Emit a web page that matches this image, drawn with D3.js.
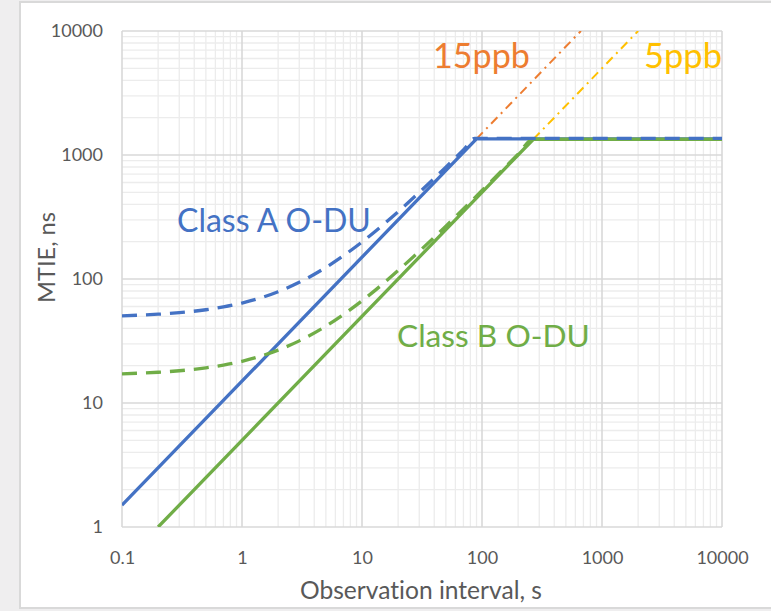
<!DOCTYPE html>
<html>
<head>
<meta charset="utf-8">
<script src="https://cdn.jsdelivr.net/npm/d3@7"></script>
<style>
  body { margin: 0; background: #efeeef; }
  svg { display: block; }
  text { font-variant-ligatures: none; }
</style>
</head>
<body>
<div id="app"></div>
<script>
const WIDTH = 771;
const HEIGHT = 611;

// tick values on both log axes
const xTicks = [0.1, 1, 10, 100, 1000, 10000];
const yTicks = [1, 10, 100, 1000, 10000];

// Class A O-DU (15 ppb) limit, solid
const tauA = [0.1, 90, 10000];
const mtieA = [1.5, 1350, 1350];

// Class B O-DU (5 ppb) limit, solid
const tauB = [0.2, 268, 10000];
const mtieB = [1, 1340, 1340];

// Class A dashed curve
const tauADash = [0.1, 0.2, 0.3, 0.5, 0.7, 1, 1.5, 2, 3, 5, 7, 10, 15, 20, 30, 50, 70, 87, 10000];
const mtieADash = [50.5, 52, 53.5, 56.5, 59.5, 64, 71.5, 79, 94, 124, 154, 199, 274, 349, 499, 799, 1099, 1360, 1360];

// Class B dashed curve
const tauBDash = [0.1, 0.2, 0.3, 0.5, 0.7, 1, 1.5, 2, 3, 5, 7, 10, 15, 20, 30, 50, 70, 100, 150, 200, 267, 10000];
const mtieBDash = [17.2, 17.7, 18.2, 19.2, 20.2, 21.7, 24.2, 26.7, 31.7, 41.7, 51.7, 66.7, 91.7, 117, 167, 267, 367, 517, 767, 1017, 1340, 1340];

// frequency offset extensions past the cap
const tau15 = [90, 667];
const mtie15 = [1350, 10000];
const tau5 = [268, 2000];
const mtie5 = [1340, 10000];

const BLUE = '#4472c4';
const GREEN = '#70ad47';
const ORANGE = '#ed7d31';
const YELLOW = '#ffc000';
const FONT = 'Lato, "Open Sans", sans-serif';

const plot = { left: 122, right: 722, top: 31, bottom: 527 };

const svg = d3.select('#app')
  .append('svg')
  .attr('width', WIDTH)
  .attr('height', HEIGHT);

// chart frame
svg.append('rect')
  .attr('x', 20)
  .attr('y', 2)
  .attr('width', WIDTH)
  .attr('height', 606)
  .style('fill', 'white')
  .style('stroke', '#d9d9d9')
  .style('stroke-width', 2);

const x = d3.scaleLog().domain([0.1, 10000]).range([plot.left, plot.right]);
const y = d3.scaleLog().domain([1, 10000]).range([plot.bottom, plot.top]);

// minor grid (2..9 in each decade)
const minorX = [];
for (let d = 0.1; d < 10000; d *= 10) {
  for (let k = 2; k <= 9; k++) minorX.push(d * k);
}
const minorY = [];
for (let d = 1; d < 10000; d *= 10) {
  for (let k = 2; k <= 9; k++) minorY.push(d * k);
}

const grid = svg.append('g');
grid.selectAll('.minor-x')
  .data(minorX)
  .enter()
  .append('line')
  .attr('x1', d => x(d)).attr('x2', d => x(d))
  .attr('y1', plot.top).attr('y2', plot.bottom)
  .style('stroke', '#ececec')
  .style('stroke-width', 1.3);
grid.selectAll('.minor-y')
  .data(minorY)
  .enter()
  .append('line')
  .attr('y1', d => y(d)).attr('y2', d => y(d))
  .attr('x1', plot.left).attr('x2', plot.right)
  .style('stroke', '#ececec')
  .style('stroke-width', 1.3);

// major grid
grid.selectAll('.major-x')
  .data(xTicks)
  .enter()
  .append('line')
  .attr('x1', d => x(d)).attr('x2', d => x(d))
  .attr('y1', plot.top).attr('y2', plot.bottom)
  .style('stroke', '#d9d9d9')
  .style('stroke-width', 1.6);
grid.selectAll('.major-y')
  .data(yTicks)
  .enter()
  .append('line')
  .attr('y1', d => y(d)).attr('y2', d => y(d))
  .attr('x1', plot.left).attr('x2', plot.right)
  .style('stroke', '#d9d9d9')
  .style('stroke-width', 1.6);

// axes: only labels, the lines are the grid
const xAxis = svg.append('g')
  .attr('transform', `translate(0,${plot.bottom})`)
  .call(d3.axisBottom(x).tickValues(xTicks).tickFormat(d => d3.format('~g')(d)).tickSize(0).tickPadding(24));
const yAxis = svg.append('g')
  .attr('transform', `translate(${plot.left},0)`)
  .call(d3.axisLeft(y).tickValues(yTicks).tickFormat(d => String(d)).tickSize(0).tickPadding(19));
[xAxis, yAxis].forEach(a => {
  a.select('.domain').remove();
  a.selectAll('text')
    .style('font-family', FONT)
    .style('font-size', '18px')
    .style('fill', '#595959');
});

// series
svg.append('clipPath').attr('id', 'clip')
  .append('rect')
  .attr('x', plot.left).attr('y', plot.top)
  .attr('width', plot.right - plot.left)
  .attr('height', plot.bottom - plot.top);

const lines = svg.append('g').attr('clip-path', 'url(#clip)');

function drawSeries(taus, vals, color, width, dash, curve) {
  const pts = taus.map((t, i) => [t, vals[i]]);
  const line = d3.line()
    .x(d => x(d[0]))
    .y(d => y(d[1]))
    .curve(curve || d3.curveLinear);
  lines.append('path')
    .datum(pts)
    .attr('d', line)
    .style('fill', 'none')
    .style('stroke', color)
    .style('stroke-width', width)
    .style('stroke-dasharray', dash || null)
    .style('stroke-linejoin', 'round');
}

drawSeries(tau15, mtie15, ORANGE, 2, '9,5,2,5');
drawSeries(tau5, mtie5, YELLOW, 2, '9,5,2,5');
drawSeries(tauA, mtieA, BLUE, 3.3);
drawSeries(tauB, mtieB, GREEN, 3.3);
drawSeries(tauBDash, mtieBDash, GREEN, 3.3, '15,9', d3.curveMonotoneX);
drawSeries(tauADash, mtieADash, BLUE, 3.3, '15,9', d3.curveMonotoneX);

// text helper: scale font so the text spans the width measured in the reference
function fitText(sel, width) {
  sel.style('font-size', '100px');
  const w = sel.node().getComputedTextLength();
  sel.style('font-size', (100 * width / w) + 'px');
  return sel;
}

function label(txt, lx, ly, width, color, anchor) {
  const t = svg.append('text')
    .attr('x', lx)
    .attr('y', ly)
    .attr('text-anchor', anchor || 'start')
    .style('font-family', FONT)
    .style('fill', color)
    .text(txt);
  return fitText(t, width);
}

label('Class A O-DU', 177, 232, 194, BLUE);
label('Class B O-DU', 397, 347, 193, GREEN);
label('15ppb', 433, 68, 97, ORANGE);
label('5ppb', 644, 68, 78, YELLOW);

// axis titles
label('Observation interval, s', 421, 599, 242, '#595959', 'middle');
label('MTIE, ns', 0, 0, 91, '#595959', 'middle')
  .attr('transform', 'translate(55,257.5) rotate(-90)');
</script>
</body>
</html>
